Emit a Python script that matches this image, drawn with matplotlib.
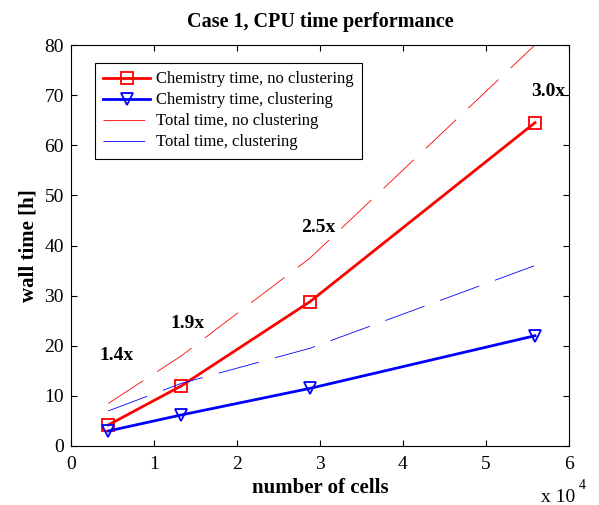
import matplotlib
matplotlib.use("Agg")
import matplotlib.pyplot as plt

plt.rcParams['font.family'] = ['Liberation Serif', 'DejaVu Serif']
plt.rcParams['lines.scale_dashes'] = False

# number of cells (x 10^4)
cells = [0.45, 1.33, 2.88, 5.59]
chem_noclust = [4.2, 12.0, 28.8, 64.5]
chem_clust = [3.0, 6.2, 11.5, 22.0]
total_noclust = [8.5, 18.0, 37.5, 80.0]
total_clust = [7.0, 12.5, 19.5, 36.0]

speedups = ["1.4x", "1.9x", "2.5x", "3.0x"]
speedup_x = [0.55, 1.40, 2.98, 5.75]
speedup_y = [18.0, 24.5, 43.5, 70.7]

fig = plt.figure(figsize=(5.99, 5.05), dpi=100)
ax = fig.add_axes([71 / 599, 1 - 446 / 505, 498 / 599, 401 / 505])

ax.plot(cells, chem_noclust, "-s", color="red", lw=2, ms=8, mfc="none", mew=1.3,
        label="Chemistry time, no clustering")
ax.plot(cells, chem_clust, "-v", color="blue", lw=2, ms=9, mfc="none", mew=1.3,
        label="Chemistry time, clustering")
ax.plot(cells, total_noclust, color="red", lw=0.6, dashes=(30, 12),
        label="Total time, no clustering")
ax.plot(cells, total_clust, color="blue", lw=0.6, dashes=(30, 12),
        label="Total time, clustering")

for s, x, y in zip(speedups, speedup_x, speedup_y):
    ax.text(x, y, s, ha="center", va="center", fontsize=14, fontweight="bold")

ax.set_xlim(0, 6)
ax.set_ylim(0, 80)
ax.set_xticks(range(0, 7))
ax.set_yticks(range(0, 81, 10))
ax.tick_params(direction="in", top=True, right=True, labelsize=14, length=4)
ax.tick_params(axis="x", pad=7)
ax.tick_params(axis="y", pad=5)
for sp in ax.spines.values():
    sp.set_linewidth(0.8)

ax.set_title("Case 1, CPU time performance", fontsize=14.5, fontweight="bold", pad=13)
ax.set_xlabel("number of cells", fontsize=15, fontweight="bold", labelpad=4)
ax.set_ylabel("wall time [h]", fontsize=15, fontweight="bold", labelpad=4)
fig.text(541 / 599, 1 - 502 / 505, "x 10", ha="left", va="baseline", fontsize=14)
fig.text(579 / 599, 1 - 489 / 505, "4", ha="left", va="baseline", fontsize=10)

leg = ax.legend(loc="upper left", bbox_to_anchor=(0.048, 0.955), fontsize=12,
                fancybox=False, edgecolor="black", framealpha=1,
                handlelength=2.8, handletextpad=0.35, borderpad=0.5,
                labelspacing=0.3, borderaxespad=0)
leg.get_frame().set_linewidth(0.8)

fig.savefig("out.png", dpi=100)
